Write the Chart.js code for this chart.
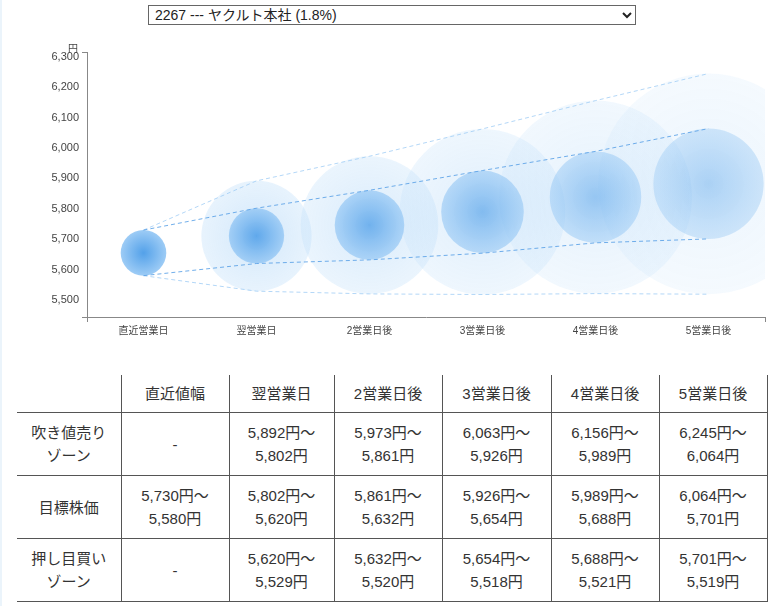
<!DOCTYPE html>
<html>
<head>
<meta charset="utf-8">
<script src="https://cdn.jsdelivr.net/npm/chart.js@4.4.1/dist/chart.umd.min.js"></script>
<style>
html, body { margin: 0; padding: 0; background: #fff; }
body {
    width: 776px; height: 606px; position: relative; overflow: hidden;
    font-family: "Liberation Sans", Arial, "Noto Sans CJK JP", sans-serif;
    color: #333;
}
.edge { position: absolute; left: 0; top: 0; width: 2px; height: 606px; background: #ebf4fb; }
select {
    position: absolute; left: 148px; top: 5px; width: 488px; height: 20px;
    font-size: 14px; font-family: "Liberation Sans", Arial, "Noto Sans CJK JP", sans-serif;
    color: #222; background: #fff; border: 1px solid #666; border-radius: 0; padding: 0 2px;
}
#chartBox { position: absolute; left: 0; top: 32px; width: 776px; height: 320px; }
table {
    position: absolute; left: 17px; top: 375px; width: 750px;
    border-collapse: collapse; table-layout: fixed; font-size: 15px; color: #333;
}
th, td {
    text-align: center; vertical-align: middle; font-weight: normal;
    border-bottom: 1px solid #555; border-left: 1px solid #555; padding: 0;
    line-height: 23px;
}
th:first-child, td:first-child { border-left: none; }
th:last-child, td:last-child { border-right: 1px solid #555; }
thead th { height: 37px; }
tbody td { height: 62px; }
</style>
</head>
<body>
<div class="edge"></div>
<select><option>2267 --- ヤクルト本社 (1.8%)</option></select>
<div id="chartBox"><canvas id="zone-chart"></canvas></div>
<table id="zone-table"></table>

<script>
// axis categories
const labels = ['直近営業日', '翌営業日', '2営業日後', '3営業日後', '4営業日後', '5営業日後'];
const tableHeads = ['直近値幅', '翌営業日', '2営業日後', '3営業日後', '4営業日後', '5営業日後'];
const rowNames = ['吹き値売り<br>ゾーン', '目標株価', '押し目買い<br>ゾーン'];

// price zones (円)
const sellHigh   = [null, 5892, 5973, 6063, 6156, 6245];
const targetHigh = [5730, 5802, 5861, 5926, 5989, 6064];
const targetLow  = [5580, 5620, 5632, 5654, 5688, 5701];
const buyLow     = [null, 5529, 5520, 5518, 5521, 5519];

// y axis
const yTicks = [5500, 5600, 5700, 5800, 5900, 6000, 6100, 6200, 6300];
const yMin = 5444;
const yMax = 6316;

const fmt = v => v.toLocaleString('en-US');

// outer band lines start from the latest range
const topLine = sellHigh.map((v, i) => i === 0 ? targetHigh[0] : v);
const bottomLine = buyLow.map((v, i) => i === 0 ? targetLow[0] : v);

const mid = (hi, lo) => hi.map((v, i) => v == null ? null : (v + lo[i]) / 2);
const innerMid = mid(targetHigh, targetLow);
const outerMid = mid(sellHigh, buyLow);

// radius = half of the price range, measured on the y scale
function radiusFor(hi, lo) {
    return ctx => {
        const i = ctx.dataIndex;
        const y = ctx.chart.scales.y;
        if (!y || hi[i] == null) return 0;
        return Math.abs(y.getPixelForValue(hi[i]) - y.getPixelForValue(lo[i])) / 2;
    };
}

function gradientFor(hi, lo, inner) {
    const r = radiusFor(hi, lo);
    return ctx => {
        const chart = ctx.chart;
        const i = ctx.dataIndex;
        if (!chart.chartArea || hi[i] == null) return 'rgba(0,0,0,0)';
        const cx = chart.scales.x.getPixelForValue(i);
        const cy = chart.scales.y.getPixelForValue((hi[i] + lo[i]) / 2);
        const rad = Math.max(r(ctx), 1);
        const g = chart.ctx.createRadialGradient(cx, cy, 0, cx, cy, rad);
        if (inner) {
            const a = 0.95 - i * 0.11;
            g.addColorStop(0, `rgba(74, 156, 232, ${a})`);
            g.addColorStop(1, `rgba(152, 201, 245, ${a})`);
        } else {
            const a = 0.5 - (i - 1) * 0.07;
            g.addColorStop(0, `rgba(165, 208, 246, ${a})`);
            g.addColorStop(1, `rgba(196, 225, 250, ${a * 0.8})`);
        }
        return g;
    };
}

function lineSet(data, color) {
    return {
        type: 'line', data: data, order: 0,
        borderColor: color, borderWidth: 1, borderDash: [4, 3],
        pointRadius: 0, tension: 0, fill: false
    };
}

function circleSet(data, hi, lo, inner) {
    return {
        type: 'line', data: data, order: inner ? 1 : 2,
        showLine: false, clip: 0,
        pointRadius: radiusFor(hi, lo),
        pointHoverRadius: radiusFor(hi, lo),
        pointBackgroundColor: gradientFor(hi, lo, inner),
        pointBorderWidth: 0, pointHoverBorderWidth: 0
    };
}

const unitLabel = {
    id: 'unitLabel',
    afterDraw(chart) {
        const { ctx, chartArea } = chart;
        ctx.save();
        ctx.font = '10px "Noto Sans CJK JP", sans-serif';
        ctx.fillStyle = '#444';
        ctx.textAlign = 'right';
        ctx.textBaseline = 'middle';
        ctx.fillText('円', chartArea.left - 9, chartArea.top - 4);
        ctx.restore();
    }
};

const tickFont = { family: '"Liberation Sans", Arial, "Noto Sans CJK JP", sans-serif' };

new Chart(document.getElementById('zone-chart').getContext('2d'), {
    data: {
        labels: labels,
        datasets: [
            lineSet(targetHigh, 'rgba(88, 160, 230, 0.85)'),
            lineSet(targetLow, 'rgba(88, 160, 230, 0.85)'),
            lineSet(topLine, 'rgba(160, 205, 245, 0.8)'),
            lineSet(bottomLine, 'rgba(160, 205, 245, 0.8)'),
            circleSet(innerMid, targetHigh, targetLow, true),
            circleSet(outerMid, sellHigh, buyLow, false)
        ]
    },
    options: {
        responsive: true,
        maintainAspectRatio: false,
        animation: false,
        events: [],
        layout: { padding: { left: 7, right: 11, top: 20, bottom: 10 } },
        plugins: { legend: { display: false }, tooltip: { enabled: false } },
        scales: {
            x: {
                type: 'category',
                offset: true,
                afterFit: s => { s.height = 25; },
                border: { display: true, color: '#888', width: 1 },
                grid: {
                    offset: true, drawOnChartArea: false, drawTicks: true, tickLength: 5,
                    color: c => (c.type === 'scale' || c.index === 0) ? '#888' : 'rgba(0,0,0,0)'
                },
                ticks: { color: '#444', font: { ...tickFont, size: 10 }, padding: 3, maxRotation: 0 }
            },
            y: {
                min: yMin,
                max: yMax,
                afterFit: s => { s.width = 80; },
                afterBuildTicks: axis => {
                    axis.ticks = [yMin, ...yTicks, yMax].map(v => ({ value: v }));
                },
                border: { display: true, color: '#888', width: 1 },
                grid: {
                    drawOnChartArea: false, drawTicks: true, tickLength: 5,
                    color: c => (c.tick && yTicks.includes(c.tick.value)) ? 'rgba(0,0,0,0)' : '#888'
                },
                ticks: {
                    autoSkip: false, padding: 3, color: '#444',
                    font: { ...tickFont, size: 11 },
                    callback: v => yTicks.includes(v) ? fmt(v) : ''
                }
            }
        }
    },
    plugins: [unitLabel]
});

// table under the chart
const range = (hi, lo) => `${fmt(hi)}円～<br>${fmt(lo)}円`;
const rows = [
    sellHigh.map((v, i) => v == null ? '-' : range(v, targetHigh[i])),
    targetHigh.map((v, i) => range(v, targetLow[i])),
    buyLow.map((v, i) => v == null ? '-' : range(targetLow[i], v))
];
const widths = [104, 108, 105, 108, 109, 108, 108];
let html = '<colgroup>' + widths.map(w => `<col style="width:${w}px">`).join('') + '</colgroup>';
html += '<thead><tr><th></th>' + tableHeads.map(h => `<th>${h}</th>`).join('') + '</tr></thead><tbody>';
rows.forEach((r, k) => {
    html += `<tr><td>${rowNames[k]}</td>` + r.map(c => `<td>${c}</td>`).join('') + '</tr>';
});
html += '</tbody>';
document.getElementById('zone-table').innerHTML = html;
</script>
</body>
</html>
